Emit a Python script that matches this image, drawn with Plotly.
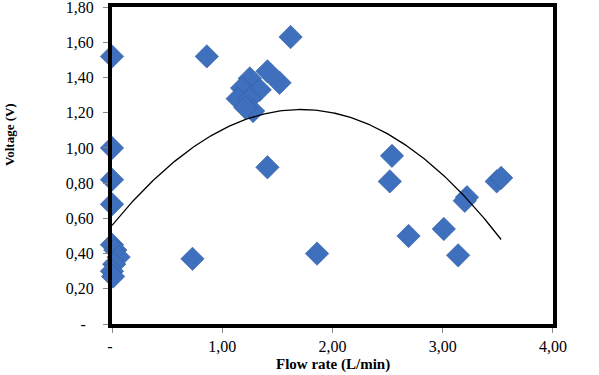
import numpy as np
import plotly.graph_objects as go

flow = [0.00, 0.86, 1.62, 1.41, 0.00, 0.00, 0.00,
        0.00, 0.03, 0.06, 0.02, 0.00, 0.01,
        1.25, 1.41, 1.52, 1.18, 1.34, 1.14, 1.25, 1.28, 1.21,
        0.73, 1.86, 2.54, 2.52, 2.69, 3.01, 3.14, 3.22, 3.20, 3.49, 3.53]
voltage = [1.52, 1.52, 1.63, 0.89, 1.00, 0.82, 0.68,
           0.45, 0.42, 0.38, 0.34, 0.30, 0.27,
           1.395, 1.435, 1.37, 1.34, 1.33, 1.28, 1.28, 1.21, 1.23,
           0.37, 0.40, 0.955, 0.81, 0.50, 0.54, 0.39, 0.72, 0.70, 0.81, 0.83]

# polynomial trendline coefficients (a, b, c)
trend_coef = [-0.224, 0.768, 0.560]

x_ticks = [0, 1, 2, 3, 4]
x_ticktext = ["- ", "1,00", "2,00", "3,00", "4,00"]
y_ticks = [0, 0.2, 0.4, 0.6, 0.8, 1.0, 1.2, 1.4, 1.6, 1.8]
y_ticktext = ["-  ", "0,20", "0,40", "0,60", "0,80", "1,00", "1,20", "1,40", "1,60", "1,80"]

xs = np.linspace(min(flow), max(flow), 200)
ys = np.polyval(trend_coef, xs)

font = "Liberation Serif"
fig = go.Figure()
fig.add_trace(go.Scatter(
    x=flow, y=voltage, mode="markers", cliponaxis=False,
    marker=dict(symbol="diamond", size=18, color="#3f70be",
                line=dict(width=0.6, color="#2f5a9e")),
    showlegend=False, hoverinfo="skip"))
fig.add_trace(go.Scatter(
    x=xs, y=ys, mode="lines", line=dict(color="black", width=1.3),
    showlegend=False, hoverinfo="skip"))

axis_common = dict(showgrid=False, zeroline=False, showline=True, linecolor="black",
                   linewidth=4, mirror=True, ticks="outside", ticklen=5,
                   tickcolor="#888888", tickwidth=1, automargin=False,
                   ticklabeloverflow="allow",
                   tickfont=dict(family=font, size=16, color="black"))
fig.update_layout(
    width=599, height=375,
    margin=dict(l=112, r=46, t=7, b=51),
    paper_bgcolor="white", plot_bgcolor="white",
    xaxis=dict(range=[0, 4.0005], tickvals=x_ticks, ticktext=x_ticktext, **axis_common),
    yaxis=dict(range=[0, 1.8005], tickvals=y_ticks, ticktext=y_ticktext,
               ticklabelstandoff=6, **axis_common),
    annotations=[
        dict(text="<b>Flow rate (L/min)</b>", xref="paper", yref="paper",
             x=0.5, y=-(364 - 324) / 317, xanchor="center", yanchor="middle",
             showarrow=False, font=dict(family=font, size=15, color="black")),
        dict(text="<b>Voltage (V)</b>", xref="paper", yref="paper", textangle=-90,
             x=-(112 - 9) / 441, y=(324 - 135) / 317, xanchor="center", yanchor="middle",
             showarrow=False, font=dict(family=font, size=13, color="black")),
    ],
)
fig.write_html("out.html", config={"displayModeBar": False},
               post_script="document.body.style.margin='0';")
